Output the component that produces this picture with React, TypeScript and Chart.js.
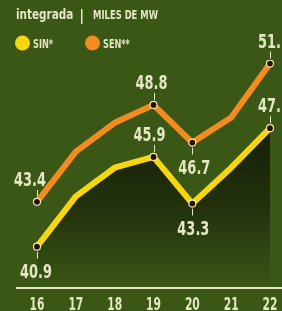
import React, { useEffect, useRef } from "react";
import { Chart, registerables } from "chart.js";

Chart.register(...registerables);

const categories = ["16", "17", "18", "19", "20", "21", "22"];
const sinValues = [40.9, 43.7, 45.3, 45.9, 43.3, 45.3, 47.5];
const senValues = [43.4, 46.2, 47.8, 48.8, 46.7, 48.1, 51.1];
const labelledPoints = [0, 3, 4, 6];

const BG = "#3b5716";
const CREAM = "#e3e8c2";
const YELLOW = "#f7d60f";
const ORANGE = "#f38b1f";
const FONT = '"DejaVu Sans Condensed", "DejaVu Sans", sans-serif';

function drawCondensed(
  ctx: CanvasRenderingContext2D,
  text: string,
  x: number,
  y: number,
  sx: number,
  align: "left" | "center"
) {
  ctx.save();
  ctx.translate(x, y);
  ctx.scale(sx, 1);
  ctx.textAlign = align;
  ctx.fillText(text, 0, 0);
  ctx.restore();
}

const backgroundPlugin = {
  id: "bgPlugin",
  beforeDraw(chart: any) {
    const ctx = chart.ctx;
    ctx.save();
    ctx.fillStyle = BG;
    ctx.fillRect(0, 0, chart.width, chart.height);
    ctx.restore();
  },
};

const headerPlugin = {
  id: "headerPlugin",
  afterDraw(chart: any) {
    const ctx = chart.ctx;
    ctx.save();
    ctx.fillStyle = CREAM;
    ctx.textBaseline = "alphabetic";
    ctx.font = `bold 14px ${FONT}`;
    drawCondensed(ctx, "integrada", 16, 19, 0.83, "left");
    ctx.fillRect(81, 9, 1.5, 15);
    ctx.font = `bold 12px ${FONT}`;
    drawCondensed(ctx, "MILES DE MW", 93, 19, 0.78, "left");
    // legend
    ctx.beginPath();
    ctx.arc(22.5, 43, 7.5, 0, Math.PI * 2);
    ctx.fillStyle = YELLOW;
    ctx.fill();
    ctx.beginPath();
    ctx.arc(92.5, 43, 7.5, 0, Math.PI * 2);
    ctx.fillStyle = ORANGE;
    ctx.fill();
    ctx.fillStyle = CREAM;
    ctx.font = `bold 13px ${FONT}`;
    drawCondensed(ctx, "SIN*", 33, 48, 0.7, "left");
    drawCondensed(ctx, "SEN**", 103, 48, 0.7, "left");
    // x axis line and tick labels
    const area = chart.chartArea;
    ctx.fillRect(16, area.bottom - 1, chart.width - 16, 2);
    const xs = chart.scales.x;
    ctx.font = `bold 17px ${FONT}`;
    xs.ticks.forEach((t: any, i: number) => {
      const px = xs.getPixelForTick(i);
      drawCondensed(ctx, String(xs.getLabelForValue(t.value)), px, 310, 0.7, "center");
    });
    ctx.restore();
  },
};

const valueLabelPlugin = {
  id: "valueLabels",
  afterDatasetsDraw(chart: any, _args: any, opts: any) {
    const ctx = chart.ctx;
    const spots = opts.spots as { below: boolean; dx: number }[][];
    ctx.save();
    ctx.fillStyle = CREAM;
    ctx.strokeStyle = CREAM;
    ctx.lineWidth = 1;
    ctx.textBaseline = "alphabetic";
    ctx.font = `bold 20px ${FONT}`;
    chart.data.datasets.forEach((ds: any, di: number) => {
      const meta = chart.getDatasetMeta(di);
      labelledPoints.forEach((idx, k) => {
        const el = meta.data[idx];
        if (!el) return;
        const spot = spots[di][k];
        const x = el.x;
        const y = el.y;
        ctx.beginPath();
        if (spot.below) {
          ctx.moveTo(Math.round(x) + 0.5, y + 5);
          ctx.lineTo(Math.round(x) + 0.5, y + 12);
        } else {
          ctx.moveTo(Math.round(x) + 0.5, y - 5);
          ctx.lineTo(Math.round(x) + 0.5, y - 12);
        }
        ctx.stroke();
        const text = Number(ds.data[idx]).toFixed(1);
        drawCondensed(ctx, text, x + spot.dx, spot.below ? y + 31 : y - 16, 0.72, "center");
      });
    });
    ctx.restore();
  },
};

export default function App() {
  const canvasRef = useRef<HTMLCanvasElement | null>(null);

  useEffect(() => {
    document.body.style.margin = "0";
    const canvas = canvasRef.current;
    if (!canvas) return;
    const pointRadius = (c: any) => (labelledPoints.includes(c.dataIndex) ? 3.5 : 0);
    const chart = new Chart(canvas, {
      type: "line",
      data: {
        labels: categories,
        datasets: [
          {
            label: "SIN*",
            data: sinValues,
            borderColor: YELLOW,
            borderWidth: 6,
            borderJoinStyle: "round",
            borderCapStyle: "round",
            tension: 0,
            fill: "start",
            backgroundColor: (c: any) => {
              const area = c.chart.chartArea;
              if (!area) return "transparent";
              const g = c.chart.ctx.createLinearGradient(0, 140, 0, area.bottom);
              g.addColorStop(0, "rgba(20,28,6,0.9)");
              g.addColorStop(0.5, "rgba(20,28,6,0.6)");
              g.addColorStop(1, "rgba(20,28,6,0)");
              return g;
            },
            pointRadius,
            pointHoverRadius: pointRadius,
            pointBackgroundColor: "#2b0f06",
            pointBorderColor: "#f4e7b5",
            pointBorderWidth: 1.2,
          },
          {
            label: "SEN**",
            data: senValues,
            borderColor: ORANGE,
            borderWidth: 6,
            borderJoinStyle: "round",
            borderCapStyle: "round",
            tension: 0,
            fill: false,
            pointRadius,
            pointHoverRadius: pointRadius,
            pointBackgroundColor: "#2b0f06",
            pointBorderColor: "#f4e7b5",
            pointBorderWidth: 1.2,
          },
        ],
      },
      options: {
        responsive: false,
        animation: false,
        devicePixelRatio: 1,
        events: [],
        layout: { padding: { left: 37, right: 12, top: 60, bottom: 0 } },
        plugins: {
          legend: { display: false },
          tooltip: { enabled: false },
          title: { display: false },
          valueLabels: {
            spots: [
              [
                { below: true, dx: -1 },
                { below: false, dx: -4 },
                { below: true, dx: 1 },
                { below: false, dx: 4 },
              ],
              [
                { below: false, dx: -7 },
                { below: false, dx: -2 },
                { below: true, dx: 2 },
                { below: false, dx: 4 },
              ],
            ],
          },
        } as any,
        scales: {
          x: {
            type: "category",
            offset: false,
            grid: { display: false, drawTicks: false },
            border: { display: false },
            ticks: { display: false, autoSkip: false },
            afterFit: (scale: any) => {
              scale.height = 23;
            },
          },
          y: {
            display: false,
            min: 38.6,
            max: 51.3,
          },
        },
      },
      plugins: [backgroundPlugin, headerPlugin, valueLabelPlugin],
    });
    return () => chart.destroy();
  }, []);

  return (
    <div style={{ width: 282, height: 311, background: BG }}>
      <canvas ref={canvasRef} width={282} height={311} style={{ display: "block" }} />
    </div>
  );
}
